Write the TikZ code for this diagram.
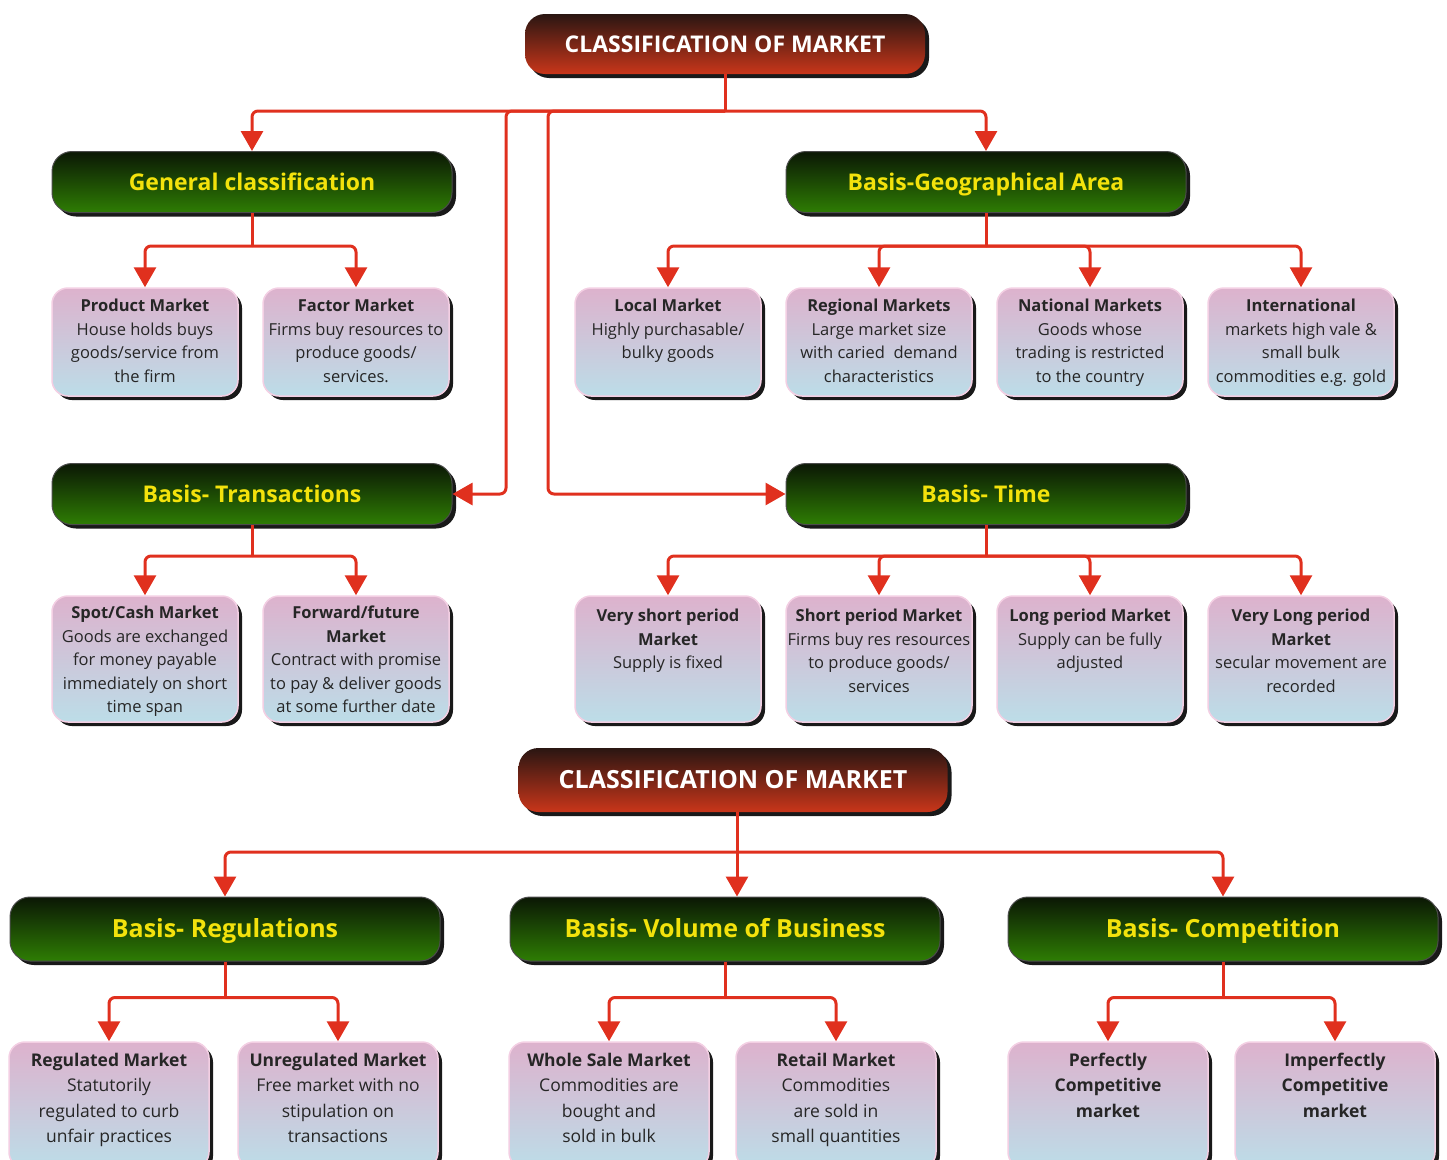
\documentclass[tikz,border=0pt]{standalone}
\usepackage{fontspec}
\setmainfont{Open Sans}
\usetikzlibrary{arrows.meta,shadows}

\definecolor{linkred}{HTML}{E0301E}
\definecolor{titletop}{HTML}{2A1612}
\definecolor{titlebot}{HTML}{C9361A}
\definecolor{grntop}{HTML}{0B1705}
\definecolor{grnbot}{HTML}{2E7D04}
\definecolor{grntext}{HTML}{F3E20C}
\definecolor{leaftop}{HTML}{DDB2CD}
\definecolor{leafbot}{HTML}{BCDDE8}
\definecolor{leafrim}{HTML}{F3CFE3}

\newcommand{\leaftext}[4]{\begin{minipage}[t][#2pt][t]{#1pt}\centering\vspace*{#3pt}#4\end{minipage}}

\begin{document}
\begin{tikzpicture}[x=1pt,y=-1pt,
    shade/.style = {drop shadow={shadow xshift=4pt, shadow yshift=-4pt, fill=black!90, opacity=1}},
    titlebox/.style = {shade, rounded corners=20pt, top color=titletop, bottom color=titlebot,
      text=white, text height=20pt, text depth=4pt, font=\fontsize{23}{28}\selectfont\bfseries},
    grnbox/.style = {shade, rounded corners=20pt, top color=grntop, bottom color=grnbot,
      draw=black!70, line width=1pt, text=grntext, text height=20pt, text depth=4pt,
      font=\fontsize{23}{28}\selectfont\bfseries, minimum height=61pt},
    leaf/.style = {shade, rounded corners=16pt, top color=leaftop, bottom color=leafbot,
      draw=leafrim, line width=1.5pt, inner sep=0pt, text=black!85,
      font=\fontsize{16.5}{23.5}\selectfont},
    leafbig/.style = {leaf, font=\fontsize{17.5}{25.5}\selectfont},
    link/.style = {draw=linkred, line width=3pt, rounded corners=6pt},
    arrowlink/.style = {link, -{Triangle[width=22pt,length=20pt]}}
  ]
  \useasboundingbox (0,0) rectangle (1447,1159);

  % upper chart
  \node[titlebox, minimum width=400pt, minimum height=60pt] (title1) at (725,44) {CLASSIFICATION OF MARKET};

  \node[grnbox, minimum width=400pt] (gen) at (252,182) {General classification};
  \node[grnbox, minimum width=400pt] (geo) at (986,182) {Basis-Geographical Area};
  \node[grnbox, minimum width=400pt] (trans) at (252,494) {Basis- Transactions};
  \node[grnbox, minimum width=400pt] (time) at (986,494) {Basis- Time};

  \node[leaf] (prod) at (145,342) {\leaftext{186}{108}{11}{\textbf{Product Market}\\House holds buys\\goods/service from\\the firm}};
  \node[leaf] (fact) at (356,342) {\leaftext{186}{108}{11}{\textbf{Factor Market}\\Firms buy resources to\\produce goods/\\services.}};
  \node[leaf] (local) at (668,342) {\leaftext{186}{108}{11}{\textbf{Local Market}\\Highly purchasable/\\bulky goods}};
  \node[leaf] (regio) at (879,342) {\leaftext{186}{108}{11}{\textbf{Regional Markets}\\Large market size\\with caried\ \ demand\\characteristics}};
  \node[leaf] (natio) at (1090,342) {\leaftext{186}{108}{11}{\textbf{National Markets}\\Goods whose\\trading is restricted\\to the country}};
  \node[leaf] (inter) at (1301,342) {\leaftext{186}{108}{11}{\textbf{International}\\markets high vale \&\\small bulk\\commodities e.g. gold}};

  \node[leaf] (spot) at (145,659) {\leaftext{186}{126}{10}{\textbf{Spot/Cash Market}\\Goods are exchanged\\for money payable\\immediately on short\\time span}};
  \node[leaf] (fwd) at (356,659) {\leaftext{186}{126}{10}{\textbf{Forward/future}\\\textbf{Market}\\Contract with promise\\to pay \& deliver goods\\at some further date}};
  \node[leaf] (vshort) at (668,659) {\leaftext{186}{126}{13}{\textbf{Very short period}\\\textbf{Market}\\Supply is fixed}};
  \node[leaf] (short) at (879,659) {\leaftext{186}{126}{13}{\textbf{Short period Market}\\Firms buy res resources\\to produce goods/\\services}};
  \node[leaf] (long) at (1090,659) {\leaftext{186}{126}{13}{\textbf{Long period Market}\\Supply can be fully\\adjusted}};
  \node[leaf] (vlong) at (1301,659) {\leaftext{186}{126}{13}{\textbf{Very Long period}\\\textbf{Market}\\secular movement are\\recorded}};

  \coordinate (bus1) at (725,111);
  \coordinate (tbend) at (506,494);
  \coordinate (mbend) at (548,494);
  \draw[link] (title1.south) -- (bus1);
  \draw[arrowlink] (bus1) -| (gen.north);
  \draw[arrowlink] (bus1) -| (geo.north);
  \draw[arrowlink] (bus1) -| (tbend) -- (trans.east);
  \draw[arrowlink] (bus1) -| (mbend) -- (time.west);

  \draw[link] (gen.south) -- ++(0,33) coordinate (bus2);
  \draw[arrowlink] (bus2) -| (prod.north);
  \draw[arrowlink] (bus2) -| (fact.north);
  \draw[link] (geo.south) -- ++(0,33) coordinate (bus3);
  \foreach \n in {local,regio,natio,inter}
    \draw[arrowlink] (bus3) -| (\n.north);

  \draw[link] (trans.south) -- ++(0,31) coordinate (bus4);
  \draw[arrowlink] (bus4) -| (spot.north);
  \draw[arrowlink] (bus4) -| (fwd.north);
  \draw[link] (time.south) -- ++(0,31) coordinate (bus5);
  \foreach \n in {vshort,short,long,vlong}
    \draw[arrowlink] (bus5) -| (\n.north);

  % lower chart
  \node[titlebox, minimum width=429pt, minimum height=64pt, font=\fontsize{25}{30}\selectfont\bfseries] (title2) at (733,780) {CLASSIFICATION OF MARKET};

  \node[grnbox, minimum width=430pt, minimum height=64pt, font=\fontsize{25}{30}\selectfont\bfseries] (regul) at (225,929) {Basis- Regulations};
  \node[grnbox, minimum width=430pt, minimum height=64pt, font=\fontsize{25}{30}\selectfont\bfseries] (vol) at (725,929) {Basis- Volume of Business};
  \node[grnbox, minimum width=430pt, minimum height=64pt, font=\fontsize{25}{30}\selectfont\bfseries] (comp) at (1223,929) {Basis- Competition};

  \node[leafbig] (reg) at (109,1105) {\leaftext{200}{126}{11}{\textbf{Regulated Market}\\Statutorily\\regulated to curb\\unfair practices}};
  \node[leafbig] (unreg) at (338,1105) {\leaftext{200}{126}{11}{\textbf{Unregulated Market}\\Free market with no\\stipulation on\\transactions}};
  \node[leafbig] (whole) at (609,1105) {\leaftext{200}{126}{11}{\textbf{Whole Sale Market}\\Commodities are\\bought and\\sold in bulk}};
  \node[leafbig] (retail) at (836,1105) {\leaftext{200}{126}{11}{\textbf{Retail Market}\\Commodities\\are sold in\\small quantities}};
  \node[leafbig] (perf) at (1108,1105) {\leaftext{200}{126}{11}{\textbf{Perfectly}\\\textbf{Competitive}\\\textbf{market}}};
  \node[leafbig] (imperf) at (1335,1105) {\leaftext{200}{126}{11}{\textbf{Imperfectly}\\\textbf{Competitive}\\\textbf{market}}};

  \coordinate (bus6) at (737,852);
  \draw[link] (title2.south -| bus6) -- (bus6);
  \draw[arrowlink] (bus6) -| (regul.north);
  \draw[arrowlink] (bus6) -- (bus6 |- vol.north);
  \draw[arrowlink] (bus6) -| (comp.north);

  \draw[link] (regul.south) -- ++(0,36) coordinate (bus7);
  \draw[arrowlink] (bus7) -| (reg.north);
  \draw[arrowlink] (bus7) -| (unreg.north);
  \draw[link] (vol.south) -- ++(0,36) coordinate (bus8);
  \draw[arrowlink] (bus8) -| (whole.north);
  \draw[arrowlink] (bus8) -| (retail.north);
  \draw[link] (comp.south) -- ++(0,36) coordinate (bus9);
  \draw[arrowlink] (bus9) -| (perf.north);
  \draw[arrowlink] (bus9) -| (imperf.north);

\end{tikzpicture}
\end{document}
